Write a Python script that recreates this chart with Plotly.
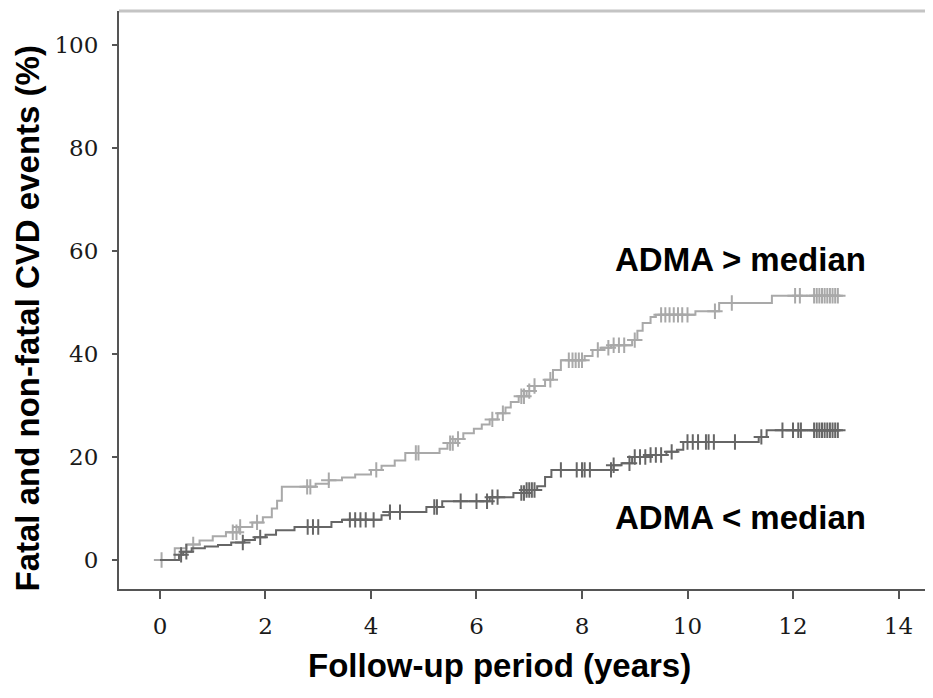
import numpy as np
import plotly.graph_objects as go

# ---- data ----
high_t = [0, 0.28, 0.5, 0.75, 1.0, 1.25, 1.5, 1.75, 1.95, 2.12, 2.22, 2.31, 2.95, 3.2, 3.45, 3.7, 4.0,
          4.2, 4.45, 4.65, 5.3, 5.45, 5.6, 5.75, 5.95, 6.1, 6.25, 6.4, 6.55, 6.65, 6.8, 6.95,
          7.1, 7.3, 7.45, 7.6, 8.05, 8.2, 8.35, 8.55, 8.95, 9.05, 9.15, 9.3, 9.4, 10.15, 10.6,
          11.6, 12.9]
high_y = [0, 2.3, 3.0, 3.8, 4.6, 5.4, 6.4, 7.3, 8.3, 10.0, 11.5, 14.2, 14.8, 15.5, 16.0, 16.6, 17.5,
          18.3, 19.3, 20.8, 21.6, 22.7, 23.5, 24.6, 25.5, 26.3, 27.3, 28.5, 29.6, 30.7, 31.8, 32.8,
          33.8, 35.0, 36.9, 38.8, 39.6, 40.8, 41.2, 41.7, 42.7, 44.5, 46.0, 47.2, 47.6, 48.3, 49.9,
          51.3, 51.3]
high_cens = [0.03, 0.63, 1.38, 1.45, 1.52, 1.84, 2.79, 2.85, 3.2, 4.1, 4.85, 4.9, 5.5, 5.55,
             5.65, 6.3, 6.5, 6.85, 6.9, 7.0, 7.1, 7.4, 7.75, 7.82, 7.88, 7.94, 8.0, 8.3, 8.5, 8.6,
             8.7, 8.8, 9.0, 9.5, 9.58, 9.66, 9.74, 9.82, 9.9, 10.0, 10.52, 10.84, 12.04, 12.13,
             12.4, 12.45, 12.5, 12.55, 12.6, 12.65, 12.7, 12.75, 12.8, 12.85]

low_t = [0, 0.36, 0.44, 0.6, 0.85, 1.1, 1.35, 1.6, 1.8, 2.0, 2.2, 2.55, 3.25, 3.45, 4.2, 4.35,
         5.05, 5.35, 6.25, 6.7, 6.95, 7.15, 7.3, 7.42, 8.6, 8.75, 8.95, 9.3, 9.6, 9.8, 9.92,
         11.35, 11.5, 12.9]
low_y = [0, 1.0, 1.6, 2.3, 2.6, 2.9, 3.4, 3.9, 4.4, 4.9, 5.8, 6.4, 7.4, 7.8, 8.7, 9.3,
         10.3, 11.4, 12.2, 13.0, 13.6, 14.3, 16.1, 17.5, 18.4, 18.8, 20.0, 20.4, 21.0, 21.4, 22.9,
         23.9, 25.2, 25.2]
low_cens = [0.4, 0.5, 1.57, 1.9, 2.8, 2.9, 3.0, 3.6, 3.7, 3.8, 3.9, 4.05, 4.36, 4.55, 5.2, 5.25,
            5.7, 6.0, 6.2, 6.3, 6.4, 6.85, 6.9, 6.95, 7.0, 7.05, 7.1, 7.6, 7.9, 8.0, 8.05, 8.15,
            8.55, 8.6, 8.9, 9.0, 9.1, 9.2, 9.3, 9.4, 9.5, 9.7, 10.0, 10.1, 10.2, 10.35, 10.4,
            10.5, 10.9, 11.4, 11.8, 12.0, 12.1, 12.15, 12.4, 12.45, 12.5, 12.55, 12.6, 12.65,
            12.7, 12.75, 12.8, 12.85]

x_ticks = [0, 2, 4, 6, 8, 10, 12, 14]
y_ticks = [0, 20, 40, 60, 80, 100]

HIGH_COLOR = "#a9a9a9"
LOW_COLOR = "#666666"


def step_value(ts, ys, c):
    i = np.searchsorted(np.array(ts), c, side="right") - 1
    return ys[max(i, 0)]


fig = go.Figure()
for ts, ys, cens, col, name in [(high_t, high_y, high_cens, HIGH_COLOR, "ADMA > median"),
                                (low_t, low_y, low_cens, LOW_COLOR, "ADMA < median")]:
    fig.add_trace(go.Scatter(x=ts, y=ys, mode="lines", line=dict(shape="hv", color=col, width=2),
                             name=name, showlegend=False, hoverinfo="skip"))
    fig.add_trace(go.Scatter(x=cens, y=[step_value(ts, ys, c) for c in cens], mode="markers",
                             marker=dict(symbol="cross-thin", size=11, line=dict(color=col, width=2)),
                             showlegend=False, hoverinfo="skip"))

tick_font = dict(family="DejaVu Serif", size=23, color="#1a1a1a")
title_font = dict(family="Liberation Sans, Arial", size=33, color="#000000")

# The page body adds an 8px offset, so the figure is sized to end exactly at the window edge.
fig.update_layout(
    width=925, height=690,
    margin=dict(l=111, r=0, t=3, b=109),
    paper_bgcolor="white", plot_bgcolor="white",
    xaxis=dict(range=[-0.777, 14.654], tickvals=x_ticks, showgrid=False, zeroline=False,
               showline=True, linecolor="#555555", linewidth=2, ticks="outside", ticklen=8,
               tickwidth=2, tickcolor="#555555", tickfont=tick_font, ticklabelstandoff=7),
    yaxis=dict(range=[-5.63, 106.6], tickvals=y_ticks, showgrid=False, zeroline=False,
               showline=True, linecolor="#555555", linewidth=2, ticks="outside", ticklen=5,
               tickwidth=2, tickcolor="#555555", tickfont=tick_font, ticklabelstandoff=9),
    shapes=[dict(type="line", xref="paper", yref="paper", x0=0, x1=1, y0=1, y1=1,
                 line=dict(color="#c4c4c4", width=3))],
    annotations=[
        dict(text="<b>Follow-up period (years)</b>", xref="paper", yref="paper", x=0.468,
             y=-0.133, xanchor="center", yanchor="middle", showarrow=False, font=title_font),
        dict(text="<b>Fatal and non-fatal CVD events (%)</b>", xref="paper", yref="paper",
             x=-0.113, y=0.468, xanchor="center", yanchor="middle", textangle=-90,
             showarrow=False, font=title_font),
        dict(text="<b>ADMA > median</b>", x=11.0, y=58.4, xanchor="center", yanchor="middle",
             showarrow=False, font=title_font),
        dict(text="<b>ADMA < median</b>", x=11.0, y=8.3, xanchor="center", yanchor="middle",
             showarrow=False, font=title_font),
    ],
)

fig.write_html("out.html")
